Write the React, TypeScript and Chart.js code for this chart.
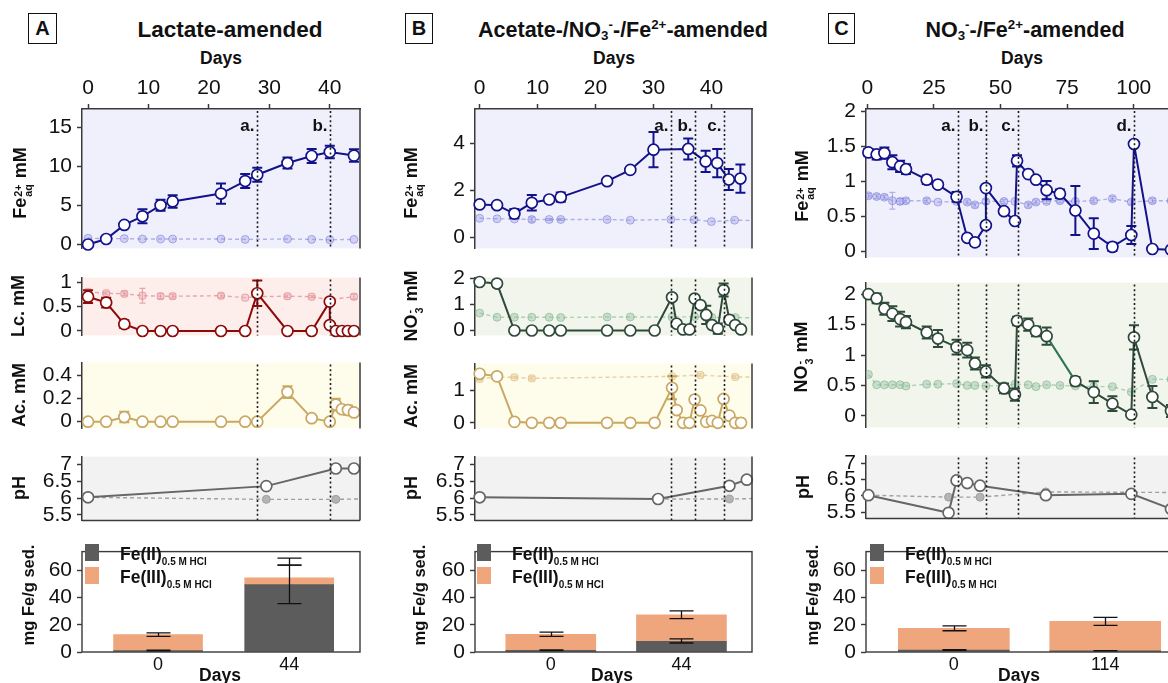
import React, { useEffect, useRef } from 'react';
import { Chart, registerables } from 'chart.js';

Chart.register(...registerables);

const FONT = "'Liberation Sans', Arial, Helvetica, sans-serif";
Chart.defaults.font.family = FONT;
Chart.defaults.color = '#111';

// ---------------- Column A: Lactate-amended ----------------
const aDaysTicks = [0, 10, 20, 30, 40];
const aFeDays = [0, 3, 6, 9, 12, 14, 22, 26, 28, 33, 37, 40, 44];
const aFe = [0, 0.7, 2.5, 3.6, 5.0, 5.5, 6.5, 8.1, 8.9, 10.4, 11.3, 11.8, 11.35];
const aFeErr = [0, 0, 0, 0.9, 0.7, 0.8, 1.3, 0.9, 0.9, 0.7, 0.9, 0.8, 0.8];
const aFeCtlDays = [0, 3, 6, 9, 12, 14, 22, 26, 33, 37, 40, 44];
const aFeCtl = [0.8, 0.75, 0.75, 0.7, 0.7, 0.7, 0.7, 0.65, 0.7, 0.65, 0.6, 0.65];
const aLcDays = [0, 3, 6, 9, 12, 14, 22, 26, 28, 33, 37, 40, 40, 41, 42, 43, 44];
const aLc = [0.7, 0.58, 0.14, 0, 0, 0, 0, 0, 0.77, 0, 0, 0.6, 0.12, 0, 0, 0, 0];
const aLcErr = [0.13, 0.1, 0.08, 0, 0, 0, 0, 0, 0.26, 0, 0, 0, 0, 0, 0, 0, 0];
const aLcCtlDays = [0, 3, 6, 9, 12, 14, 22, 26, 28, 33, 37, 40, 44];
const aLcCtl = [0.8, 0.77, 0.76, 0.72, 0.71, 0.71, 0.72, 0.68, 0.7, 0.71, 0.7, 0.64, 0.7];
const aLcCtlErr = [0, 0.03, 0.04, 0.15, 0.05, 0.04, 0.04, 0, 0, 0.03, 0.02, 0, 0.05];
const aAcDays = [0, 3, 6, 9, 12, 14, 22, 26, 28, 33, 37, 40, 41, 42, 43, 44];
const aAc = [0, 0, 0.04, 0, 0, 0, 0, 0, 0, 0.255, 0.03, 0, 0.147, 0.107, 0.1, 0.08];
const aAcErr = [0, 0, 0.045, 0, 0, 0, 0, 0, 0, 0.05, 0, 0, 0.05, 0.02, 0.04, 0.02];
const aPhDays = [0, 29.5, 41, 44];
const aPh = [6.02, 6.35, 6.87, 6.87];
const aPhCtlDays = [0, 29.5, 41, 47];
const aPhCtl = [6.02, 5.96, 5.96, 5.98];
const aEvents = [28, 40];
const aEventLabels = ['a.', 'b.'];
const aBarDays = ['0', '44'];
const aFeII = [1.0, 49.4];
const aFeIII = [11.8, 5.0];
const aFeIIErrLo = [0.7, 35.5];
const aFeIIErrHi = [1.3, 63.8];
const aTotErrLo = [11.5, 63.8];
const aTotErrHi = [14.1, 68.9];

// ---------------- Column B: Acetate-/NO3-/Fe2+-amended ----------------
const bDaysTicks = [0, 10, 20, 30, 40];
const bFeDays = [0, 3, 6, 9, 12, 14, 22, 26, 30, 36, 39, 41, 43, 45];
const bFe = [1.39, 1.36, 1.0, 1.46, 1.6, 1.7, 2.38, 2.86, 3.72, 3.75, 3.22, 3.15, 2.45, 2.49];
const bFeErr = [0, 0, 0.2, 0.33, 0.07, 0.2, 0, 0.1, 0.75, 0.45, 0.45, 0.6, 0.45, 0.6];
const bFeCtlDays = [0, 3, 6, 9, 12, 14, 22, 26, 33, 37, 40, 44, 49];
const bFeCtl = [0.8, 0.78, 0.77, 0.75, 0.75, 0.75, 0.75, 0.72, 0.75, 0.74, 0.66, 0.72, 0.7];
const bFeCtlErr = [0, 0, 0, 0.1, 0.04, 0.04, 0, 0, 0, 0, 0, 0, 0];
const bNoDays = [0, 3, 6, 9, 12, 14, 22, 26, 30.2, 33.2, 34, 35.1, 36.2, 37.1, 38.1, 39.1, 40.1, 41.1, 42.1, 43.1, 44.1, 45.1];
const bNo = [1.87, 1.81, 0, 0, 0, 0, 0, 0, 0, 1.28, 0.26, 0.04, 0.04, 1.23, 0.98, 0.6, 0.21, 0.07, 1.56, 0.41, 0.21, 0.04];
const bNoErr = [0, 0.12, 0, 0, 0, 0, 0, 0, 0, 0.05, 0, 0, 0, 0.08, 0.08, 0.35, 0, 0.2, 0.25, 0.15, 0.1, 0.12];
const bNoCtlDays = [0, 3, 6, 9, 12, 14, 22, 26, 33.2, 37.1, 40.1, 44.1, 49];
const bNoCtl = [0.67, 0.51, 0.51, 0.51, 0.51, 0.5, 0.52, 0.52, 0.52, 0.53, 0.5, 0.5, 0.48];
const bAcDays = [0, 3, 6, 9, 12, 14, 22, 26, 30.2, 33.2, 34, 35.1, 36.2, 37.1, 38.1, 39.1, 40.1, 41.1, 42.1, 43.1, 44.1, 45.1];
const bAc = [1.5, 1.42, 0.03, 0, 0, 0, 0, 0, 0, 1.07, 0.39, 0, 0, 0.71, 0.38, 0.03, 0.06, 0, 0.73, 0.22, 0, 0];
const bAcErr = [0, 0, 0, 0, 0, 0, 0, 0, 0, 0.35, 0, 0, 0, 0.05, 0.07, 0, 0, 0, 0.05, 0, 0, 0];
const bAcCtlDays = [0, 3, 6, 9, 33.2, 38.1, 44.1, 49];
const bAcCtl = [1.34, 1.4, 1.39, 1.36, 1.42, 1.46, 1.4, 1.4];
const bAcCtlErr = [0.04, 0, 0.03, 0.05, 0, 0.04, 0.04, 0];
const bPhDays = [0, 30.8, 43.1, 46.1];
const bPh = [6.02, 5.97, 6.36, 6.54];
const bPhCtlDays = [30.8, 43.1, 49];
const bPhCtl = [5.97, 5.97, 5.99];
const bEvents = [33.1, 37.1, 42.2];
const bEventLabels = ['a.', 'b.', 'c.'];
const bBarDays = ['0', '44'];
const bFeII = [1.3, 7.9];
const bFeIII = [11.6, 19.4];
const bFeIIErrLo = [1.0, 6.6];
const bFeIIErrHi = [1.6, 9.7];
const bTotErrLo = [11.5, 24.5];
const bTotErrHi = [14.6, 30.2];

// ---------------- Column C: NO3-/Fe2+-amended ----------------
const cDaysTicks = [0, 25, 50, 75, 100];
const cFeDays = [0.4, 3.5, 6.4, 9.4, 12.3, 14.5, 22.3, 26.5, 33.5, 37.5, 40.4, 44.5, 44.5, 51.3, 55.4, 56.2, 60.4, 63.3, 67.3, 72.3, 78.1, 85, 92, 99.1, 100.1, 107, 114];
const cFe = [1.41, 1.38, 1.4, 1.27, 1.21, 1.17, 1.02, 0.95, 0.775, 0.19, 0.125, 0.37, 0.9, 0.57, 0.43, 1.29, 1.1, 1.02, 0.87, 0.82, 0.58, 0.25, 0.06, 0.23, 1.53, 0.03, 0.02];
const cFeErr = [0.05, 0.07, 0.08, 0.1, 0.08, 0.07, 0.06, 0.03, 0.07, 0.03, 0.05, 0, 0, 0, 0, 0.08, 0, 0, 0.13, 0.06, 0.35, 0.22, 0.06, 0.13, 0, 0, 0];
const cFeCtlDays = [0.4, 3.5, 6.4, 9.4, 12.3, 14.5, 22.3, 26.5, 33.5, 37.5, 40.4, 44.5, 51.3, 55.4, 60.4, 63.3, 67.3, 72.3, 78.1, 85, 92, 99.1, 107, 114];
const cFeCtl = [0.79, 0.78, 0.77, 0.72, 0.71, 0.72, 0.72, 0.7, 0.71, 0.7, 0.66, 0.71, 0.71, 0.71, 0.66, 0.7, 0.71, 0.72, 0.71, 0.72, 0.75, 0.7, 0.72, 0.72];
const cFeCtlErr = [0.03, 0.03, 0.03, 0.12, 0.04, 0.03, 0.03, 0, 0.03, 0.03, 0.03, 0.03, 0.03, 0, 0.03, 0.03, 0.03, 0.03, 0, 0.03, 0.03, 0.03, 0.03, 0];
const cNoDays = [0.4, 3.5, 6.4, 9.4, 12.3, 14.5, 22.3, 26.5, 33.5, 37.5, 40.4, 44.5, 51.3, 55.4, 56.2, 60.4, 63.3, 67.3, 78.1, 85, 92, 99.1, 100.1, 107, 114];
const cNo = [2.0, 1.93, 1.76, 1.68, 1.59, 1.54, 1.37, 1.27, 1.13, 1.08, 0.86, 0.73, 0.45, 0.35, 1.56, 1.5, 1.39, 1.31, 0.57, 0.39, 0.2, 0.02, 1.29, 0.31, 0.08];
const cNoErr = [0, 0.08, 0.1, 0.12, 0.12, 0.1, 0.1, 0.14, 0.12, 0.12, 0.1, 0.1, 0.08, 0.1, 0.07, 0.1, 0.08, 0.14, 0.07, 0.18, 0.12, 0, 0.2, 0.18, 0.1];
const cNoCtlDays = [0.4, 3.5, 6.4, 9.4, 12.3, 14.5, 22.3, 26.5, 33.5, 37.5, 40.4, 44.5, 51.3, 55.4, 60.4, 63.3, 67.3, 72.3, 78.1, 85, 92, 99.1, 107, 114, 121];
const cNoCtl = [0.68, 0.51, 0.51, 0.51, 0.51, 0.49, 0.52, 0.52, 0.53, 0.5, 0.5, 0.49, 0.5, 0.52, 0.51, 0.48, 0.51, 0.5, 0.49, 0.48, 0.48, 0.39, 0.6, 0.6, 0.6];
const cNoAltSegment = 17;
const cPhDays = [0.4, 30.5, 33.5, 37.5, 42.3, 67, 99.1, 114];
const cPh = [6.02, 5.48, 6.47, 6.39, 6.31, 6.02, 6.06, 5.6];
const cPhCtlDays = [0.4, 30.5, 42.3, 67, 121];
const cPhCtl = [6.02, 5.96, 5.96, 6.12, 6.1];
const cEvents = [33.9, 44.4, 56.4, 100.1];
const cEventLabels = ['a.', 'b.', 'c.', 'd.'];
const cBarDays = ['0', '114'];
const cFeII = [1.5, 0.8];
const cFeIII = [15.9, 21.7];
const cFeIIErrLo = [1.3, 0.6];
const cFeIIErrHi = [1.7, 1.0];
const cTotErrLo = [15.6, 19.6];
const cTotErrHi = [19.2, 25.4];

// ---------------- Styles ----------------
type Kind = 'fe' | 'lc' | 'ac' | 'no3' | 'ph';
const STY: Record<Kind, any> = {
  fe: { main: '#12128a', bg: '#f0f0fd', cb: 'rgba(100,100,205,0.45)', cf: 'rgba(150,150,228,0.35)', ps: 'circle' },
  lc: { main: '#8c0a0a', bg: '#fdeeec', cb: 'rgba(215,120,130,0.6)', cf: 'rgba(238,175,180,0.45)', ps: 'rectRounded' },
  ac: { main: '#c9a864', bg: '#fefcea', cb: 'rgba(215,180,120,0.6)', cf: 'rgba(238,208,155,0.45)', ps: 'rectRounded' },
  no3: { main: '#2f4a3a', bg: '#f1f5eb', cb: 'rgba(120,175,140,0.55)', cf: 'rgba(150,195,160,0.45)', ps: 'circle', alt: '#2d7352' },
  ph: { main: '#666666', bg: '#f2f2f2', cb: '#a0a0a0', cf: '#b4b4b4', ps: 'circle' },
};
const FE2 = '#5c5c5c';
const FE3 = '#efa67d';
const AXC = '#3a3a3a';

type Series = { days: number[]; vals: number[]; errs?: number[] };

interface LP {
  box: number[];
  xr: number[];
  yr: number[];
  yTicks: number[];
  topTicks?: number[];
  kind: Kind;
  main: Series;
  ctl?: Series;
  events: number[];
  eventLabels?: string[];
  bottomLine?: boolean;
  altSeg?: number;
}

function drawErrs(chart: any, idx: number) {
  const ds = chart.data.datasets[idx];
  if (!ds.errs) return;
  const ctx = chart.ctx;
  const xs = chart.scales.x;
  const ys = chart.scales.y;
  ctx.save();
  ctx.strokeStyle = ds.errColor;
  ctx.lineWidth = ds.errLW;
  ctx.setLineDash([]);
  ds.data.forEach((pt: any, i: number) => {
    const e = ds.errs[i];
    if (!e) return;
    const x = xs.getPixelForValue(pt.x);
    const y1 = ys.getPixelForValue(pt.y - e);
    const y2 = ys.getPixelForValue(pt.y + e);
    ctx.beginPath();
    ctx.moveTo(x, y1);
    ctx.lineTo(x, y2);
    ctx.moveTo(x - ds.capW, y1);
    ctx.lineTo(x + ds.capW, y1);
    ctx.moveTo(x - ds.capW, y2);
    ctx.lineTo(x + ds.capW, y2);
    ctx.stroke();
  });
  ctx.restore();
}

function LinePanel(p: LP) {
  const ref = useRef<HTMLCanvasElement | null>(null);
  const [l, t, r, b] = p.box;
  const AX = 80;
  const TOP = p.topTicks ? 44 : 0;
  const PAD = 8;
  const cw = Math.round(r - l + AX + PAD);
  const ch = Math.round(b - t + (p.topTicks ? TOP : PAD) + PAD);
  const cl = l - AX;
  const ct = t - (p.topTicks ? TOP : PAD);
  useEffect(() => {
    const s = STY[p.kind];
    const datasets: any[] = [
      {
        data: p.main.days.map((d, i) => ({ x: d, y: p.main.vals[i] })),
        errs: p.main.errs,
        capW: 5,
        errLW: 2,
        errColor: s.main,
        borderColor: s.main,
        borderWidth: 2,
        pointRadius: 5.5,
        pointBorderWidth: 1.7,
        pointBackgroundColor: '#ffffff',
        pointBorderColor: s.main,
        tension: 0,
        clip: 12,
        segment:
          p.altSeg !== undefined
            ? { borderColor: (c: any) => (c.p0DataIndex === p.altSeg ? s.alt : undefined) }
            : undefined,
      },
    ];
    if (p.ctl) {
      datasets.push({
        data: p.ctl.days.map((d, i) => ({ x: d, y: p.ctl!.vals[i] })),
        errs: p.ctl.errs,
        capW: 3,
        errLW: 1.2,
        errColor: s.cb,
        borderColor: s.cb,
        borderWidth: 1.4,
        borderDash: [4, 3],
        pointRadius: 4,
        pointStyle: s.ps,
        pointBorderWidth: 1,
        pointBackgroundColor: s.cf,
        pointBorderColor: s.cb,
        tension: 0,
        clip: 0,
      });
    }
    const deco = {
      id: 'deco',
      beforeDraw(chart: any) {
        const { ctx, chartArea: a } = chart;
        ctx.save();
        ctx.fillStyle = s.bg;
        ctx.fillRect(a.left, a.top, a.right - a.left, a.bottom - a.top);
        ctx.restore();
      },
      beforeDatasetDraw(chart: any, args: any) {
        drawErrs(chart, args.index);
      },
      afterDatasetsDraw(chart: any) {
        const { ctx, chartArea: a } = chart;
        const xs = chart.scales.x;
        ctx.save();
        ctx.strokeStyle = '#1a1a1a';
        ctx.lineWidth = 1.6;
        ctx.setLineDash([2, 2.6]);
        p.events.forEach((ev, i) => {
          const x = Math.round(xs.getPixelForValue(ev)) + 0.5;
          ctx.beginPath();
          ctx.moveTo(x, a.top + 2);
          ctx.lineTo(x, a.bottom);
          ctx.stroke();
          if (p.eventLabels) {
            ctx.fillStyle = '#111';
            ctx.font = `bold 17px ${FONT}`;
            ctx.textAlign = 'right';
            ctx.textBaseline = 'alphabetic';
            ctx.fillText(p.eventLabels[i], x - 3, a.top + 22);
          }
        });
        ctx.restore();
      },
      afterDraw(chart: any) {
        const { ctx, chartArea: a } = chart;
        ctx.save();
        ctx.strokeStyle = AXC;
        ctx.lineWidth = 1.5;
        ctx.beginPath();
        ctx.moveTo(a.right, a.top);
        ctx.lineTo(a.right, a.bottom);
        if (p.bottomLine) {
          ctx.moveTo(a.left, a.bottom);
          ctx.lineTo(a.right, a.bottom);
        }
        ctx.stroke();
        ctx.restore();
      },
    };
    const axisCommon = {
      grid: { drawOnChartArea: false, drawTicks: true, tickLength: 5, tickColor: AXC, tickWidth: 1.5 },
      border: { display: true, color: AXC, width: 1.5 },
    };
    const chart = new Chart(ref.current as HTMLCanvasElement, {
      type: 'line',
      data: { datasets },
      options: {
        animation: false,
        responsive: false,
        maintainAspectRatio: false,
        layout: { padding: { left: 0, right: PAD, top: p.topTicks ? 0 : PAD, bottom: PAD } },
        plugins: { legend: { display: false }, tooltip: { enabled: false } },
        scales: {
          x: {
            type: 'linear',
            position: 'top',
            min: p.xr[0],
            max: p.xr[1],
            display: !!p.topTicks,
            afterBuildTicks: (sc: any) => {
              sc.ticks = (p.topTicks || []).map((v) => ({ value: v }));
            },
            afterFit: (sc: any) => {
              sc.height = TOP;
            },
            ...axisCommon,
            ticks: { font: { size: 21 }, color: '#111', padding: 3, maxRotation: 0, autoSkip: false, callback: (v: any) => String(v) },
          },
          y: {
            type: 'linear',
            min: p.yr[0],
            max: p.yr[1],
            afterBuildTicks: (sc: any) => {
              sc.ticks = p.yTicks.map((v) => ({ value: v }));
            },
            afterFit: (sc: any) => {
              sc.width = AX;
            },
            ...axisCommon,
            ticks: { font: { size: 21 }, color: '#111', padding: 5, autoSkip: false, callback: (v: any) => String(v) },
          },
        },
      } as any,
      plugins: [deco],
    });
    return () => chart.destroy();
  }, []);
  return (
    <canvas
      ref={ref}
      width={cw}
      height={ch}
      style={{ position: 'absolute', left: cl, top: ct, width: cw, height: ch }}
    />
  );
}

interface BP {
  box: number[];
  cats: string[];
  feII: number[];
  feIII: number[];
  feIILo: number[];
  feIIHi: number[];
  totLo: number[];
  totHi: number[];
  barW: number;
}

function BarPanel(p: BP) {
  const ref = useRef<HTMLCanvasElement | null>(null);
  const [l, t, r, b] = p.box;
  const AX = 80;
  const BOT = 30;
  const PAD = 6;
  const cw = Math.round(r - l + AX + PAD);
  const ch = Math.round(b - t + PAD + BOT);
  const cl = l - AX;
  const ct = t - PAD;
  useEffect(() => {
    const deco = {
      id: 'bdeco',
      afterDatasetsDraw(chart: any) {
        const { ctx } = chart;
        const xs = chart.scales.x;
        const ys = chart.scales.y;
        ctx.save();
        ctx.strokeStyle = '#111';
        ctx.lineWidth = 1.3;
        const cap = 12;
        const seg = (x: number, lo: number, hi: number) => {
          const y1 = ys.getPixelForValue(lo);
          const y2 = ys.getPixelForValue(hi);
          ctx.beginPath();
          ctx.moveTo(x, y1);
          ctx.lineTo(x, y2);
          ctx.moveTo(x - cap, y1);
          ctx.lineTo(x + cap, y1);
          ctx.moveTo(x - cap, y2);
          ctx.lineTo(x + cap, y2);
          ctx.stroke();
        };
        p.cats.forEach((_, i) => {
          const x = Math.round(xs.getPixelForValue(i)) + 0.5;
          seg(x, p.feIILo[i], p.feIIHi[i]);
          seg(x, p.totLo[i], p.totHi[i]);
        });
        ctx.restore();
      },
      afterDraw(chart: any) {
        const { ctx, chartArea: a } = chart;
        ctx.save();
        ctx.strokeStyle = AXC;
        ctx.lineWidth = 1.4;
        ctx.strokeRect(a.left, a.top, a.right - a.left, a.bottom - a.top);
        ctx.restore();
      },
    };
    const chart = new Chart(ref.current as HTMLCanvasElement, {
      type: 'bar',
      data: {
        datasets: [
          {
            label: 'Fe(II)',
            data: p.feII.map((v, i) => ({ x: i, y: v })),
            backgroundColor: FE2,
            barThickness: p.barW,
          },
          {
            label: 'Fe(III)',
            data: p.feIII.map((v, i) => ({ x: i, y: v })),
            backgroundColor: FE3,
            barThickness: p.barW,
          },
        ],
      },
      options: {
        animation: false,
        responsive: false,
        maintainAspectRatio: false,
        layout: { padding: { left: 0, right: PAD, top: PAD, bottom: 0 } },
        plugins: { legend: { display: false }, tooltip: { enabled: false } },
        scales: {
          x: {
            type: 'linear',
            stacked: true,
            offset: false,
            min: -0.58,
            max: 1.54,
            afterBuildTicks: (sc: any) => {
              sc.ticks = p.cats.map((_, i) => ({ value: i }));
            },
            afterFit: (sc: any) => {
              sc.height = BOT;
            },
            grid: { display: false, drawTicks: false, offset: false },
            border: { display: false },
            ticks: { font: { size: 18 }, color: '#111', padding: 2, autoSkip: false, maxRotation: 0, callback: (v: any) => p.cats[v] ?? '' },
          },
          y: {
            type: 'linear',
            stacked: true,
            min: 0,
            max: 73.7,
            afterBuildTicks: (sc: any) => {
              sc.ticks = [0, 20, 40, 60].map((v) => ({ value: v }));
            },
            afterFit: (sc: any) => {
              sc.width = AX;
            },
            grid: { drawOnChartArea: false, drawTicks: true, tickLength: 5, tickColor: AXC, tickWidth: 1.4 },
            border: { display: false },
            ticks: { font: { size: 21 }, color: '#111', padding: 5, autoSkip: false, callback: (v: any) => String(v) },
          },
        },
      } as any,
      plugins: [deco],
    });
    return () => chart.destroy();
  }, []);
  return (
    <canvas
      ref={ref}
      width={cw}
      height={ch}
      style={{ position: 'absolute', left: cl, top: ct, width: cw, height: ch }}
    />
  );
}

// ---------------- HTML text helpers ----------------
function Txt(props: { x: number; y: number; size: number; rot?: boolean; children: any }) {
  return (
    <div
      style={{
        position: 'absolute',
        left: props.x,
        top: props.y,
        transform: `translate(-50%, -50%)${props.rot ? ' rotate(-90deg)' : ''}`,
        fontSize: props.size,
        fontWeight: 700,
        whiteSpace: 'nowrap',
        lineHeight: 1.15,
        color: '#111',
      }}
    >
      {props.children}
    </div>
  );
}

function Stack(props: { top: string; bot: string }) {
  return (
    <span
      style={{
        display: 'inline-flex',
        flexDirection: 'column',
        fontSize: '0.6em',
        lineHeight: 0.95,
        verticalAlign: '0.4em',
        margin: '0 1px',
        textAlign: 'left',
      }}
    >
      <span>{props.top}</span>
      <span>{props.bot}</span>
    </span>
  );
}

const supS: any = { fontSize: '0.62em', verticalAlign: '0.55em', lineHeight: 0 };
const subS: any = { fontSize: '0.62em', verticalAlign: '-0.25em', lineHeight: 0 };

function FeLabel() {
  return (
    <span>
      Fe<Stack top="2+" bot="aq" /> mM
    </span>
  );
}
function NoLabel() {
  return (
    <span>
      NO<Stack top="-" bot="3" /> mM
    </span>
  );
}

function Letter(props: { x: number; y: number; w: number; ch: string }) {
  return (
    <div
      style={{
        position: 'absolute',
        left: props.x,
        top: props.y,
        width: props.w,
        height: 29,
        border: '1.5px solid #111',
        fontSize: 20,
        fontWeight: 700,
        lineHeight: '29px',
        textAlign: 'center',
        color: '#111',
      }}
    >
      {props.ch}
    </div>
  );
}

function Legend(props: { x: number; y: number }) {
  const txt: any = { position: 'absolute', left: props.x + 35, fontSize: 17.5, fontWeight: 700, whiteSpace: 'nowrap', lineHeight: '20px', color: '#111' };
  const sub: any = { fontSize: 10, position: 'relative', top: 5 };
  return (
    <>
      <div style={{ position: 'absolute', left: props.x, top: props.y, width: 14, height: 17, background: FE2 }} />
      <div style={{ position: 'absolute', left: props.x, top: props.y + 23, width: 14, height: 17, background: FE3 }} />
      <div style={{ ...txt, top: props.y }}>
        Fe(II)<span style={sub}>0.5 M HCl</span>
      </div>
      <div style={{ ...txt, top: props.y + 23 }}>
        Fe(III)<span style={sub}>0.5 M HCl</span>
      </div>
    </>
  );
}

export default function App() {
  const phTicks = [5.5, 6, 6.5, 7];
  return (
    <div
      style={{
        position: 'fixed',
        left: 0,
        top: 0,
        width: 1168,
        height: 683,
        overflow: 'hidden',
        background: '#ffffff',
        fontFamily: FONT,
      }}
    >
      {/* ---------- Column A ---------- */}
      <Letter x={28} y={13} w={27} ch="A" />
      <Txt x={230} y={30} size={22.5}>Lactate-amended</Txt>
      <Txt x={221} y={58} size={17.5}>Days</Txt>
      <LinePanel box={[82, 109, 359.5, 258]} xr={[-1, 45]} yr={[-0.5, 17.3]} yTicks={[0, 5, 10, 15]} topTicks={aDaysTicks} kind="fe"
        main={{ days: aFeDays, vals: aFe, errs: aFeErr }} ctl={{ days: aFeCtlDays, vals: aFeCtl }} events={aEvents} eventLabels={aEventLabels} />
      <LinePanel box={[82, 268, 359.5, 345]} xr={[-1, 45]} yr={[-0.09, 1.09]} yTicks={[0, 0.5, 1]} kind="lc"
        main={{ days: aLcDays, vals: aLc, errs: aLcErr }} ctl={{ days: aLcCtlDays, vals: aLcCtl, errs: aLcCtlErr }} events={aEvents} />
      <LinePanel box={[82, 353, 359.5, 438]} xr={[-1, 45]} yr={[-0.058, 0.509]} yTicks={[0, 0.2, 0.4]} kind="ac"
        main={{ days: aAcDays, vals: aAc, errs: aAcErr }} events={aEvents} />
      <LinePanel box={[82, 447, 359.5, 530]} xr={[-1, 45]} yr={[5.34, 7.22]} yTicks={phTicks} kind="ph" bottomLine
        main={{ days: aPhDays, vals: aPh }} ctl={{ days: aPhCtlDays, vals: aPhCtl }} events={aEvents} />
      <BarPanel box={[82, 540, 359.5, 651.7]} cats={aBarDays} feII={aFeII} feIII={aFeIII} feIILo={aFeIIErrLo} feIIHi={aFeIIErrHi}
        totLo={aTotErrLo} totHi={aTotErrHi} barW={89} />
      <Legend x={85} y={544} />
      <Txt x={220} y={675} size={17.5}>Days</Txt>
      <Txt x={22} y={183} size={18} rot><FeLabel /></Txt>
      <Txt x={18} y={306} size={18} rot>Lc. mM</Txt>
      <Txt x={19} y={395} size={18} rot>Ac. mM</Txt>
      <Txt x={19} y={488} size={18} rot>pH</Txt>
      <Txt x={28} y={595} size={16.5} rot>mg Fe/g sed.</Txt>

      {/* ---------- Column B ---------- */}
      <Letter x={405} y={13} w={26} ch="B" />
      <Txt x={623} y={30} size={21.5}>
        Acetate-/NO<span style={subS}>3</span><span style={supS}>-</span>-/Fe<span style={supS}>2+</span>-amended
      </Txt>
      <Txt x={614} y={58} size={17.5}>Days</Txt>
      <LinePanel box={[475, 109, 751.7, 258]} xr={[-0.8, 47]} yr={[-0.48, 5.45]} yTicks={[0, 2, 4]} topTicks={bDaysTicks} kind="fe"
        main={{ days: bFeDays, vals: bFe, errs: bFeErr }} ctl={{ days: bFeCtlDays, vals: bFeCtl, errs: bFeCtlErr }} events={bEvents} eventLabels={bEventLabels} />
      <LinePanel box={[475, 268, 751.7, 345]} xr={[-0.8, 47]} yr={[-0.19, 2.04]} yTicks={[0, 1, 2]} kind="no3"
        main={{ days: bNoDays, vals: bNo, errs: bNoErr }} ctl={{ days: bNoCtlDays, vals: bNoCtl }} events={bEvents} />
      <LinePanel box={[475, 354, 751.7, 438]} xr={[-0.8, 47]} yr={[-0.17, 1.81]} yTicks={[0, 1]} kind="ac"
        main={{ days: bAcDays, vals: bAc, errs: bAcErr }} ctl={{ days: bAcCtlDays, vals: bAcCtl, errs: bAcCtlErr }} events={bEvents} />
      <LinePanel box={[475, 447, 751.7, 530]} xr={[-0.8, 47]} yr={[5.34, 7.22]} yTicks={phTicks} kind="ph" bottomLine
        main={{ days: bPhDays, vals: bPh }} ctl={{ days: bPhCtlDays, vals: bPhCtl }} events={bEvents} />
      <BarPanel box={[475, 540, 752, 651.7]} cats={bBarDays} feII={bFeII} feIII={bFeIII} feIILo={bFeIIErrLo} feIIHi={bFeIIErrHi}
        totLo={bTotErrLo} totHi={bTotErrHi} barW={90} />
      <Legend x={477} y={544} />
      <Txt x={612} y={675} size={17.5}>Days</Txt>
      <Txt x={413} y={183} size={18} rot><FeLabel /></Txt>
      <Txt x={413} y={306} size={18} rot><NoLabel /></Txt>
      <Txt x={411} y={396} size={18} rot>Ac. mM</Txt>
      <Txt x={411} y={488} size={18} rot>pH</Txt>
      <Txt x={419} y={595} size={16.5} rot>mg Fe/g sed.</Txt>

      {/* ---------- Column C ---------- */}
      <Letter x={828} y={13} w={25} ch="C" />
      <Txt x={1025} y={30} size={21.5}>
        NO<span style={subS}>3</span><span style={supS}>-</span>-/Fe<span style={supS}>2+</span>-amended
      </Txt>
      <Txt x={1022} y={58} size={17.5}>Days</Txt>
      <LinePanel box={[866, 109, 1179, 267]} xr={[-0.5, 117]} yr={[-0.09, 2.03]} yTicks={[0, 0.5, 1, 1.5, 2]} topTicks={cDaysTicks} kind="fe"
        main={{ days: cFeDays, vals: cFe, errs: cFeErr }} ctl={{ days: cFeCtlDays, vals: cFeCtl, errs: cFeCtlErr }} events={cEvents} eventLabels={cEventLabels} />
      <LinePanel box={[866, 273, 1179, 437]} xr={[-0.5, 117]} yr={[-0.19, 2.19]} yTicks={[0, 0.5, 1, 1.5, 2]} kind="no3" altSeg={cNoAltSegment}
        main={{ days: cNoDays, vals: cNo, errs: cNoErr }} ctl={{ days: cNoCtlDays, vals: cNoCtl }} events={cEvents} />
      <LinePanel box={[866, 446, 1179, 528]} xr={[-0.5, 117]} yr={[5.31, 7.23]} yTicks={phTicks} kind="ph" bottomLine
        main={{ days: cPhDays, vals: cPh }} ctl={{ days: cPhCtlDays, vals: cPhCtl }} events={cEvents} />
      <BarPanel box={[866, 540, 1187, 651.7]} cats={cBarDays} feII={cFeII} feIII={cFeIII} feIILo={cFeIIErrLo} feIIHi={cFeIIErrHi}
        totLo={cTotErrLo} totHi={cTotErrHi} barW={111} />
      <Legend x={870} y={544} />
      <Txt x={1019} y={675} size={17.5}>Days</Txt>
      <Txt x={804} y={186} size={18} rot><FeLabel /></Txt>
      <Txt x={803} y={357} size={18} rot><NoLabel /></Txt>
      <Txt x={803} y={487} size={18} rot>pH</Txt>
      <Txt x={812} y={595} size={16.5} rot>mg Fe/g sed.</Txt>
    </div>
  );
}
